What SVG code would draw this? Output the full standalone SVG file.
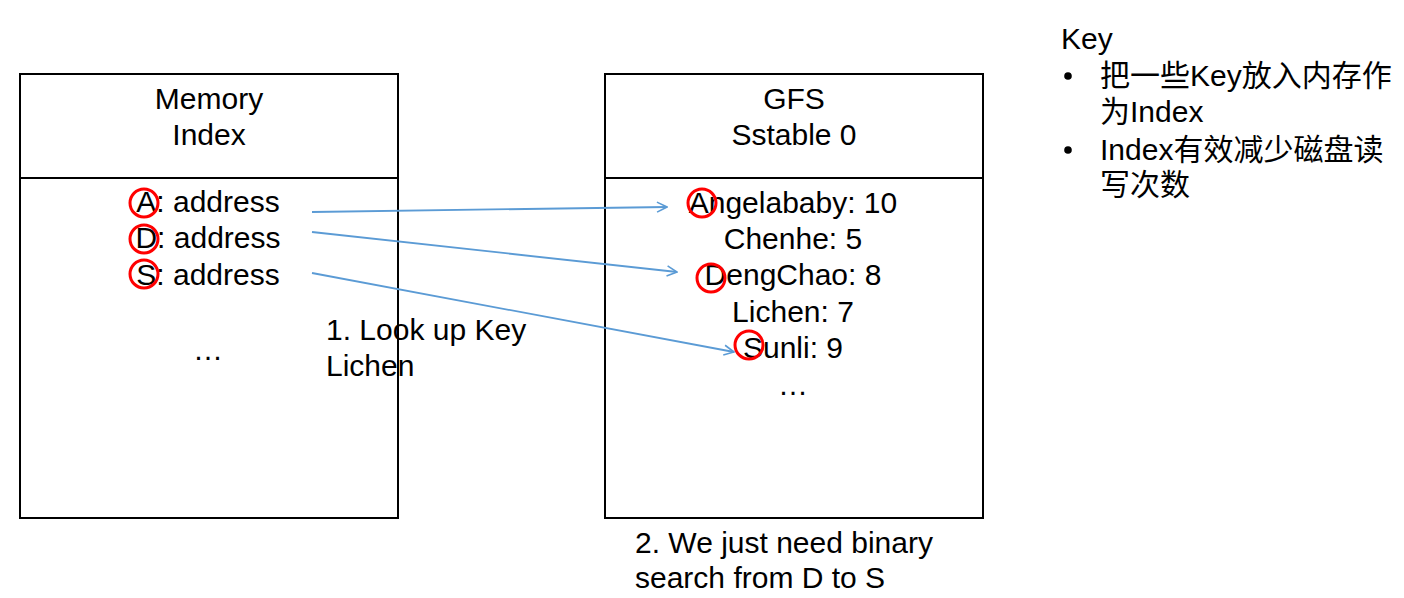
<svg xmlns="http://www.w3.org/2000/svg" width="1404" height="598" viewBox="0 0 1404 598">
<defs>
<style>
.t{font-family:"Liberation Sans",Arial,sans-serif;font-size:30px;fill:#000}
.c{text-anchor:middle}
.cjk{font-family:"Liberation Sans","Noto Sans CJK SC",sans-serif;font-size:30px;fill:#000}
.box{fill:#fff;stroke:#000;stroke-width:2}
.ring{fill:none;stroke:#ff0000;stroke-width:3}
.arr{fill:none;stroke:#5b9bd5;stroke-width:1.8;marker-end:url(#ah)}
</style>
<marker id="ah" viewBox="0 0 12 12" refX="11" refY="6" markerWidth="12" markerHeight="12" markerUnits="userSpaceOnUse" orient="auto">
<path d="M1,1 L11,6 L1,11" fill="none" stroke="#5b9bd5" stroke-width="1.6"/>
</marker>
</defs>
<rect width="1404" height="598" fill="#fff"/>

<g id="memory-index">
<rect class="box" x="20" y="74" width="378" height="444"/>
<line x1="20" y1="178" x2="398" y2="178" stroke="#000" stroke-width="2"/>
<text class="t c" x="209" y="109">Memory</text>
<text class="t c" x="209" y="145">Index</text>
<text class="t c" x="208" y="212">A: address</text>
<text class="t c" x="208" y="248">D: address</text>
<text class="t c" x="208" y="285">S: address</text>
<text class="t c" x="208" y="360">…</text>
<circle class="ring" cx="144" cy="203" r="14"/>
<circle class="ring" cx="144" cy="239" r="14"/>
<circle class="ring" cx="144" cy="274" r="14"/>
</g>

<g id="gfs-sstable">
<rect class="box" x="605" y="74" width="378" height="444"/>
<line x1="605" y1="178" x2="983" y2="178" stroke="#000" stroke-width="2"/>
<text class="t c" x="794" y="109">GFS</text>
<text class="t c" x="794" y="145">Sstable 0</text>
<text class="t c" x="793" y="213">Angelababy: 10</text>
<text class="t c" x="793" y="249">Chenhe: 5</text>
<text class="t c" x="793" y="285">DengChao: 8</text>
<text class="t c" x="793" y="322">Lichen: 7</text>
<text class="t c" x="793" y="358">Sunli: 9</text>
<text class="t c" x="793" y="395">…</text>
<circle class="ring" cx="702" cy="203" r="14"/>
<circle class="ring" cx="711" cy="278" r="14"/>
<circle class="ring" cx="749" cy="345" r="14"/>
</g>

<g id="step1-label">
<text class="t" x="326" y="340">1. Look up Key</text>
<text class="t" x="326" y="376">Lichen</text>
</g>

<g id="step2-label">
<text class="t" x="635" y="553">2. We just need binary</text>
<text class="t" x="635" y="588">search from D to S</text>
</g>

<g id="key-notes">
<text class="t" x="1061" y="49">Key</text>
<circle cx="1068" cy="76" r="3.8" fill="#000"/>
<text class="cjk" x="1100" y="86">把一些Key放入内存作</text>
<text class="cjk" x="1100" y="122">为Index</text>
<circle cx="1068" cy="150" r="3.8" fill="#000"/>
<text class="cjk" x="1100" y="160">Index有效减少磁盘读</text>
<text class="cjk" x="1100" y="195">写次数</text>
</g>

<g id="connectors">
<line class="arr" x1="312" y1="212" x2="667" y2="207"/>
<line class="arr" x1="312" y1="232" x2="677" y2="272"/>
<line class="arr" x1="312" y1="273" x2="734" y2="352"/>
</g>
</svg>
